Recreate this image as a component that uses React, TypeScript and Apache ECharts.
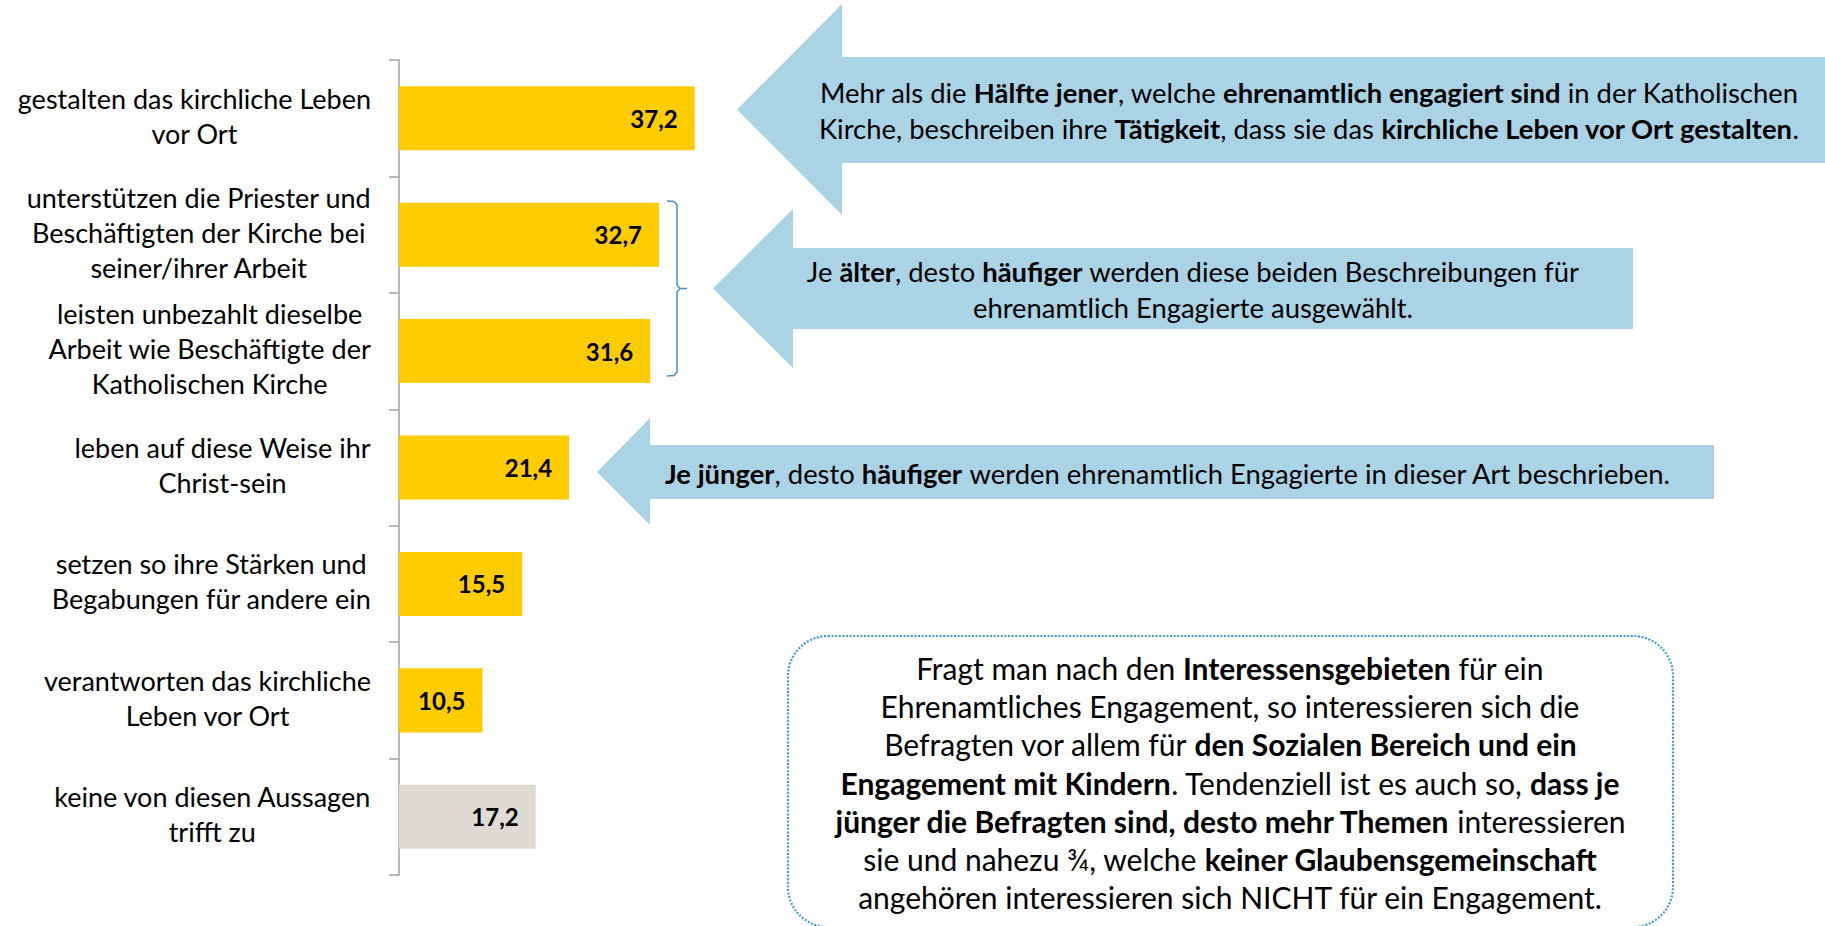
import React, { useEffect, useRef } from "react";
import * as echarts from "echarts";

const FONT = "Lato, 'Noto Sans', sans-serif";

// ---- data ----
const categories: string[][] = [
  ["gestalten das kirchliche Leben", "vor Ort"],
  ["unterstützen die Priester und", "Beschäftigten der Kirche bei", "seiner/ihrer Arbeit"],
  ["leisten unbezahlt dieselbe", "Arbeit wie Beschäftigte der", "Katholischen Kirche"],
  ["leben auf diese Weise ihr", "Christ-sein"],
  ["setzen so ihre Stärken und", "Begabungen für andere ein"],
  ["verantworten das kirchliche", "Leben vor Ort"],
  ["keine von diesen Aussagen", "trifft zu"],
];
const values: number[] = [37.2, 32.7, 31.6, 21.4, 15.5, 10.5, 17.2];
const noneOfThese: boolean[] = [false, false, false, false, false, false, true];

type Seg = [string, boolean];
const note1: Seg[][] = [
  [["Mehr als die ", false], ["Hälfte jener", true], [", welche ", false], ["ehrenamtlich engagiert sind", true], [" in der Katholischen", false]],
  [["Kirche, beschreiben ihre ", false], ["Tätigkeit", true], [", dass sie das ", false], ["kirchliche Leben vor Ort gestalten", true], [".", false]],
];
const note2: Seg[][] = [
  [["Je ", false], ["älter", true], [", desto ", false], ["häufiger", true], [" werden diese beiden Beschreibungen für", false]],
  [["ehrenamtlich Engagierte ausgewählt.", false]],
];
const note3: Seg[][] = [
  [["Je jünger", true], [", desto ", false], ["häufiger", true], [" werden ehrenamtlich Engagierte in dieser Art beschrieben.", false]],
];
const note4: Seg[][] = [
  [["Fragt man nach den ", false], ["Interessensgebieten", true], [" für ein", false]],
  [["Ehrenamtliches Engagement, so interessieren sich die", false]],
  [["Befragten vor allem für ", false], ["den Sozialen Bereich und ein", true]],
  [["Engagement mit Kindern", true], [". Tendenziell ist es auch so, ", false], ["dass je", true]],
  [["jünger die Befragten sind, desto mehr Themen", true], [" interessieren", false]],
  [["sie und nahezu ¾, welche ", false], ["keiner Glaubensgemeinschaft", true]],
  [["angehören interessieren sich NICHT für ein Engagement.", false]],
];

const toRich = (lines: Seg[][]) =>
  lines.map((l) => l.map(([t, b]) => `{${b ? "b" : "n"}|${t}}`).join("")).join("\n");

const richStyle = (size: number, lh: number) => ({
  n: { fontFamily: FONT, fontSize: size, fontWeight: "normal", fill: "#000", align: "center", lineHeight: lh },
  b: { fontFamily: FONT, fontSize: size, fontWeight: "bold", fill: "#000", align: "center", lineHeight: lh },
});

const ARROW = "#ABD3E6";

export default function App() {
  const ref = useRef<HTMLDivElement>(null);
  useEffect(() => {
    if (!ref.current) return;
    const chart = echarts.init(ref.current, undefined, { renderer: "svg" });
    const option: any = {
      animation: false,
      backgroundColor: "#fff",
      grid: { left: 399, top: 60, width: 318, height: 815, containLabel: false },
      xAxis: { type: "value", min: 0, max: 40, show: false },
      yAxis: {
        type: "category",
        inverse: true,
        data: categories.map((c) => c.join("\n")),
        axisLine: { show: true, lineStyle: { color: "#A0A0A0", width: 1.5 } },
        axisTick: { show: true, length: 10, lineStyle: { color: "#A0A0A0", width: 1.5 } },
        axisLabel: {
          margin: 28,
          align: "right",
          padding: [0, 0, 5, 0],
          formatter: (v: string) => v.split("\n").map((s) => `{c|${s}}`).join("\n"),
          rich: {
            c: { fontFamily: FONT, fontSize: 27, color: "#000", align: "center", lineHeight: 35 },
          },
        },
      },
      series: [
        {
          type: "bar",
          barWidth: "55%",
          data: values.map((v, i) => ({
            value: v,
            itemStyle: { color: noneOfThese[i] ? "#DFDBD4" : "#FFCC00" },
          })),
          label: {
            show: true,
            position: "insideRight",
            distance: 17,
            fontFamily: FONT,
            fontSize: 24,
            fontWeight: "bold",
            color: "#000",
            formatter: (p: any) => p.value.toFixed(1).replace(".", ","),
          },
        },
      ],
      graphic: [
        {
          type: "polygon",
          shape: { points: [[737, 109.5], [842, 4], [842, 57], [1830, 57], [1830, 163], [842, 163], [842, 215]] },
          style: { fill: ARROW },
          z: 1,
        },
        {
          type: "polygon",
          shape: { points: [[713, 288.5], [793, 209], [793, 248], [1633, 248], [1633, 329], [793, 329], [793, 368]] },
          style: { fill: ARROW },
          z: 1,
        },
        {
          type: "polygon",
          shape: { points: [[597, 472], [650, 418], [650, 445], [1714, 445], [1714, 499], [650, 499], [650, 525]] },
          style: { fill: ARROW },
          z: 1,
        },
        {
          type: "polyline",
          shape: {
            points: [[667, 201], [674, 201.5], [677, 205], [677, 285], [680, 288.5], [687, 288.5], [680, 288.5], [677, 292], [677, 372], [674, 375.5], [667, 376]],
          },
          style: { stroke: "#4A90C2", lineWidth: 1.5, fill: "none" },
          z: 2,
        },
        {
          type: "rect",
          shape: { x: 788, y: 636, width: 885, height: 291, r: 40 },
          style: { fill: "none", stroke: "#3E9AD0", lineWidth: 2.2, lineDash: [2, 1.6] },
          z: 2,
        },
        {
          type: "text",
          x: 1309,
          y: 110,
          style: { text: toRich(note1), rich: richStyle(27.4, 36), align: "center", verticalAlign: "middle" },
          z: 3,
        },
        {
          type: "text",
          x: 1193,
          y: 289,
          style: { text: toRich(note2), rich: richStyle(27.4, 36), align: "center", verticalAlign: "middle" },
          z: 3,
        },
        {
          type: "text",
          x: 1168,
          y: 473,
          style: { text: toRich(note3), rich: richStyle(27.4, 36), align: "center", verticalAlign: "middle" },
          z: 3,
        },
        {
          type: "text",
          x: 1230,
          y: 782.5,
          style: { text: toRich(note4), rich: richStyle(30, 38.3), align: "center", verticalAlign: "middle" },
          z: 3,
        },
      ],
    };
    chart.setOption(option);
    return () => chart.dispose();
  }, []);
  return (
    <div
      ref={ref}
      style={{ position: "fixed", left: 0, top: 0, width: 1825, height: 926, background: "#fff" }}
    />
  );
}
